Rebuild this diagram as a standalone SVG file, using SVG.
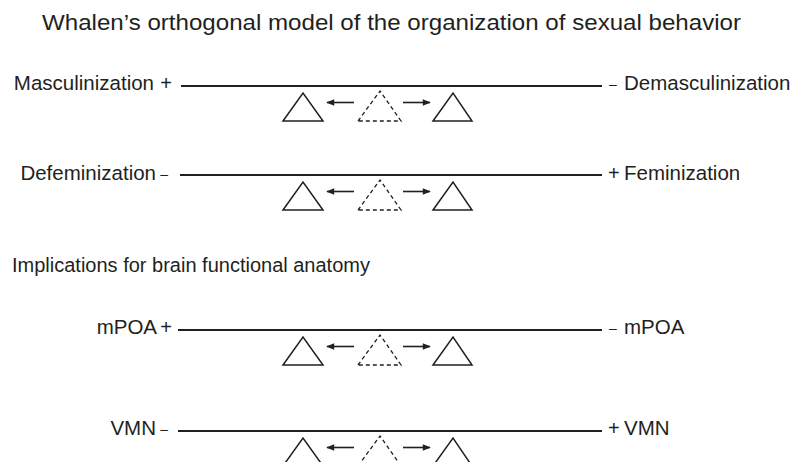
<svg xmlns="http://www.w3.org/2000/svg" xmlns:xlink="http://www.w3.org/1999/xlink" width="798" height="462" viewBox="0 0 798 462">
<style>
  text { font-family: "Liberation Sans", Arial, sans-serif; fill: #231f20; }
  .lbl { font-size: 20.5px; }
  .sgn { font-size: 20px; }
  .dsh { font-size: 14px; }
  .axis { stroke: #231f20; stroke-width: 2; fill: none; }
  .tri { stroke: #231f20; stroke-width: 1.5; fill: none; stroke-linejoin: miter; }
  .dtri { stroke: #231f20; stroke-width: 1.3; fill: none; stroke-dasharray: 4 3; }
  .arr { stroke: #231f20; stroke-width: 1.6; fill: none; }
</style>
<defs>
  <marker id="ah" viewBox="0 0 10 10" refX="9" refY="5" markerWidth="11" markerHeight="8" markerUnits="userSpaceOnUse" orient="auto">
    <path d="M0,1 L10,5 L0,9 Z" fill="#231f20"/>
  </marker>
  <g id="set">
    <path class="tri" d="M283,35 L303,7 L323,35 Z"/>
    <path class="dtri" d="M358,35 L380,5 L401,35 Z"/>
    <path class="tri" d="M433,35 L453,7 L472,35 Z"/>
    <line class="arr" x1="354" y1="16.5" x2="327" y2="16.5" marker-end="url(#ah)"/>
    <line class="arr" x1="403" y1="16.5" x2="430" y2="16.5" marker-end="url(#ah)"/>
  </g>
</defs>

<text x="42" y="30" font-size="22" textLength="699" lengthAdjust="spacingAndGlyphs">Whalen’s orthogonal model of the organization of sexual behavior</text>
<text x="12" y="272" font-size="20">Implications for brain functional anatomy</text>

<g id="connectors">
  <line class="axis" x1="181" y1="86" x2="602" y2="86"/>
  <line class="axis" x1="180" y1="175" x2="602" y2="175"/>
  <line class="axis" x1="178" y1="330" x2="602" y2="330"/>
  <line class="axis" x1="178" y1="431" x2="602" y2="431"/>
</g>

<g id="row1">
  <text x="154" y="90" class="lbl" text-anchor="end">Masculinization</text>
  <text x="172" y="90" class="sgn" text-anchor="end">+</text>
  <text x="609" y="89" class="dsh">–</text>
  <text x="624" y="90" class="lbl">Demasculinization</text>
  <use xlink:href="#set" transform="translate(0,86)"/>
</g>
<g id="row2">
  <text x="156" y="180" class="lbl" text-anchor="end">Defeminization</text>
  <text x="168" y="179" class="dsh" text-anchor="end">–</text>
  <text x="608" y="180" class="sgn">+</text>
  <text x="624" y="180" class="lbl">Feminization</text>
  <use xlink:href="#set" transform="translate(0,175)"/>
</g>
<g id="row3">
  <text x="157" y="334" class="lbl" text-anchor="end">mPOA</text>
  <text x="172" y="334" class="sgn" text-anchor="end">+</text>
  <text x="609" y="333" class="dsh">–</text>
  <text x="624" y="334" class="lbl">mPOA</text>
  <use xlink:href="#set" transform="translate(0,330)"/>
</g>
<g id="row4">
  <text x="156" y="435" class="lbl" text-anchor="end">VMN</text>
  <text x="168" y="434" class="dsh" text-anchor="end">–</text>
  <text x="608" y="435" class="sgn">+</text>
  <text x="624" y="435" class="lbl">VMN</text>
  <use xlink:href="#set" transform="translate(0,431)"/>
</g>
</svg>
